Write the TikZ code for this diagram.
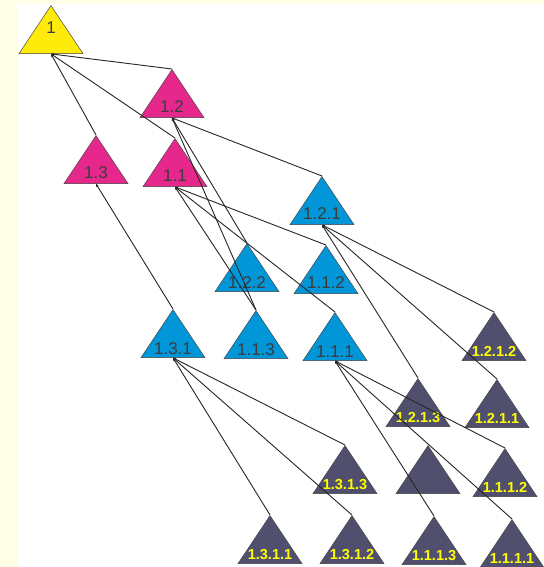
\documentclass[tikz,border=0pt]{standalone}
\usepackage{fontspec}
\setmainfont{Liberation Sans}
\usetikzlibrary{shapes.geometric,arrows.meta}

\definecolor{bgpale}{HTML}{FFFFE8}
\definecolor{rootyellow}{HTML}{FFEB0A}
\definecolor{rosepink}{HTML}{E6288C}
\definecolor{skyblue}{HTML}{0096D7}
\definecolor{slate}{HTML}{50506E}
\definecolor{inkgrey}{HTML}{3C3C3C}
\definecolor{labyellow}{HTML}{FFFF00}

\tikzset{
  tri/.style={isosceles triangle, isosceles triangle stretches, shape border rotate=90,
    minimum width=64pt, minimum height=48pt, inner sep=0pt, anchor=apex,
    draw=black!75, line width=0.5pt, fill=#1},
  lab/.style={anchor=base, inner sep=0pt, text=inkgrey, font=\fontsize{17}{17}\selectfont, yshift=5pt},
  leaflab/.style={anchor=base, inner sep=0pt, text=labyellow, font=\bfseries\fontsize{14.5}{14.5}\selectfont, yshift=4pt},
  link/.style={{Stealth[length=3pt,width=3pt]}-, line width=0.9pt, black!85},
}

\begin{document}
\begin{tikzpicture}[x=1pt, y=-1pt]
  \useasboundingbox (0,0) rectangle (543,567);
  % pale frame and white sheet
  \fill[bgpale] (0,0) rectangle (543,567);
  \fill[white] (18,4) rectangle (543,567);

  % root
  \node[tri=rootyellow, label={[lab, yshift=15pt]south:1}] (n1) at (51,5) {};

  % second level
  \node[tri=rosepink, label={[lab]south:1.2}] (n12) at (172,69) {};
  \node[tri=rosepink, label={[lab]south:1.3}] (n13) at (96,135) {};
  \node[tri=rosepink, label={[lab]south:1.1}] (n11) at (175,138) {};

  % third level
  \node[tri=skyblue, label={[lab]south:1.2.1}] (n121) at (322,176) {};
  \node[tri=skyblue, label={[lab, yshift=-2pt]south:1.2.2}] (n122) at (247,243) {};
  \node[tri=skyblue, label={[lab]south:1.1.2}] (n112) at (326,245) {};
  \node[tri=skyblue, label={[lab, yshift=-2pt]south:1.3.1}] (n131) at (173,309) {};
  \node[tri=skyblue, label={[lab, yshift=-2pt]south:1.1.3}] (n113) at (256,310) {};
  \node[tri=skyblue, label={[lab, yshift=-2pt]south:1.1.1}] (n111) at (335,312) {};

  % fourth level
  \node[tri=slate, label={[leaflab]south:1.2.1.2}] (n1212) at (494,312) {};
  \node[tri=slate, label={[leaflab]south:1.2.1.3}] (n1213) at (418,378) {};
  \node[tri=slate, label={[leaflab]south:1.2.1.1}] (n1211) at (497,379) {};
  \node[tri=slate, label={[leaflab]south:1.3.1.3}] (n1313) at (345,445) {};
  \node[tri=slate] (nblank) at (428,445) {};
  \node[tri=slate, label={[leaflab]south:1.1.1.2}] (n1112) at (505,448) {};
  \node[tri=slate, label={[leaflab]south:1.3.1.1}] (n1311) at (270,515) {};
  \node[tri=slate, label={[leaflab]south:1.3.1.2}] (n1312) at (352,515) {};
  \node[tri=slate, label={[leaflab]south:1.1.1.3}] (n1113) at (434,516) {};
  \node[tri=slate, label={[leaflab]south:1.1.1.1}] (n1111) at (512,519) {};

  % links from root
  \draw[link] (n1.south) -- (n12.apex);
  \draw[link] (n1.south) -- (n13.apex);
  \draw[link] (n1.south) -- (n11.apex);

  % links from 1.2, 1.3, 1.1
  \draw[link] (n12.south) -- (n121.apex);
  \draw[link] (n12.south) -- (n122.apex);
  \draw[link] (n12.south) -- (n113.apex);
  \draw[link] (n13.south) -- (n131.apex);
  \draw[link] (n11.south) -- (n112.apex);
  \draw[link] (n11.south) -- (n111.apex);
  \draw[link] (n11.south) -- (n113.apex);

  % links to the dark leaves
  \draw[link] (n121.south) -- (n1212.apex);
  \draw[link] (n121.south) -- (n1211.apex);
  \draw[link] (n121.south) -- (n1213.apex);
  \draw[link] (n131.south) -- (n1313.apex);
  \draw[link] (n131.south) -- (n1312.apex);
  \draw[link] (n131.south) -- (n1311.apex);
  \draw[link] (n111.south) -- (n1112.apex);
  \draw[link] (n111.south) -- (n1111.apex);
  \draw[link] (n111.south) -- (n1113.apex);
\end{tikzpicture}
\end{document}
